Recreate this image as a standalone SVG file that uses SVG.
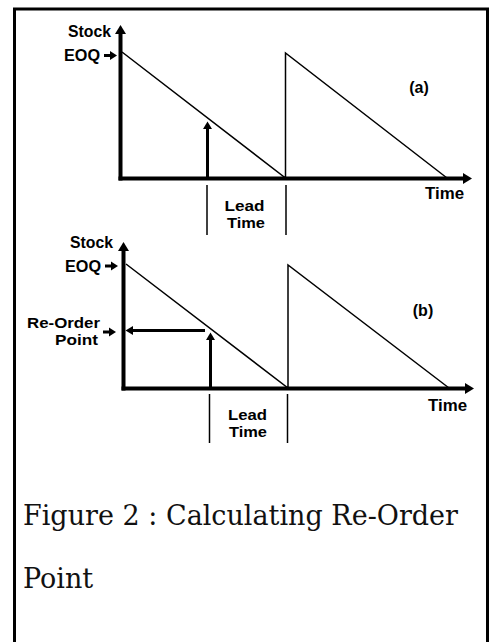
<svg xmlns="http://www.w3.org/2000/svg" width="491" height="642" viewBox="0 0 491 642">
<style>
.frame{fill:none;stroke:#000;stroke-width:3}
.axis{stroke:#000;stroke-width:4;fill:none}
.saw{stroke:#000;stroke-width:1.5;fill:none}
.thin{stroke:#000;stroke-width:1.5;fill:none}
.arr{stroke:#000;stroke-width:3;fill:none}
.head{fill:#000;stroke:none}
.lbl{font-family:"Liberation Sans",Arial,sans-serif;font-weight:bold;font-size:16px;fill:#000}
.lbl2{font-family:"Liberation Sans",Arial,sans-serif;font-weight:bold;font-size:14.5px;fill:#000}
.cap{font-family:"DejaVu Serif",serif;font-size:27px;fill:#111}
</style>
<rect x="0" y="0" width="491" height="642" fill="#fff"/>
<path class="frame" d="M14.5,642 V9 H487.5 V642"/>

<g id="chart-a">
  <g id="connectors-a">
    <line class="axis" x1="120.5" y1="180.5" x2="120.5" y2="32"/>
    <polygon class="head" points="115,34 120.5,25 126,34"/>
    <line class="axis" x1="118.5" y1="178.5" x2="465" y2="178.5"/>
    <polygon class="head" points="463,173 472,178.5 463,184"/>
    <polyline class="saw" points="122,52 285.5,178 285.5,53 447,178"/>
    <line class="arr" x1="207.5" y1="178" x2="207.5" y2="128"/>
    <polygon class="head" points="203,129 207.5,121.5 212,129"/>
    <line class="thin" x1="207" y1="185" x2="207" y2="235"/>
    <line class="thin" x1="286" y1="185" x2="286" y2="235"/>
    <line class="arr" x1="104" y1="55.5" x2="111" y2="55.5"/>
    <polygon class="head" points="110,51 117,55.5 110,60"/>
  </g>
  <g id="labels-a">
    <text class="lbl" x="111" y="37" text-anchor="end" textLength="43" lengthAdjust="spacingAndGlyphs">Stock</text>
    <text class="lbl" x="100" y="61" text-anchor="end" textLength="36" lengthAdjust="spacingAndGlyphs">EOQ</text>
    <text class="lbl" x="419" y="93" text-anchor="middle">(a)</text>
    <text class="lbl" x="425" y="199" textLength="39" lengthAdjust="spacingAndGlyphs">Time</text>
    <text class="lbl2" x="224.5" y="211" textLength="40" lengthAdjust="spacingAndGlyphs">Lead</text>
    <text class="lbl2" x="227" y="228" textLength="38" lengthAdjust="spacingAndGlyphs">Time</text>
  </g>
</g>

<g id="chart-b">
  <g id="connectors-b">
    <line class="axis" x1="123.5" y1="390.5" x2="123.5" y2="249"/>
    <polygon class="head" points="118,251 123.5,242 129,251"/>
    <line class="axis" x1="121.5" y1="388.5" x2="467" y2="388.5"/>
    <polygon class="head" points="465,383 474,388.5 465,394"/>
    <polyline class="saw" points="126,264 288,388 288,265 449,388"/>
    <line class="arr" x1="205" y1="330.5" x2="132" y2="330.5"/>
    <polygon class="head" points="133,326 125.5,330.5 133,335"/>
    <line class="arr" x1="210.5" y1="388" x2="210.5" y2="339"/>
    <polygon class="head" points="206,340 210.5,332.5 215,340"/>
    <line class="thin" x1="209.5" y1="394" x2="209.5" y2="443"/>
    <line class="thin" x1="287.5" y1="394" x2="287.5" y2="443"/>
    <line class="arr" x1="105" y1="266" x2="112" y2="266"/>
    <polygon class="head" points="111,261.5 118,266 111,270.5"/>
    <line class="arr" x1="103" y1="332" x2="110" y2="332"/>
    <polygon class="head" points="109,327.5 116,332 109,336.5"/>
  </g>
  <g id="labels-b">
    <text class="lbl" x="113" y="248" text-anchor="end" textLength="43" lengthAdjust="spacingAndGlyphs">Stock</text>
    <text class="lbl" x="101" y="272" text-anchor="end" textLength="36" lengthAdjust="spacingAndGlyphs">EOQ</text>
    <text class="lbl2" x="100" y="327.5" text-anchor="end" textLength="73" lengthAdjust="spacingAndGlyphs">Re-Order</text>
    <text class="lbl2" x="98" y="344.5" text-anchor="end" textLength="43" lengthAdjust="spacingAndGlyphs">Point</text>
    <text class="lbl" x="423" y="316" text-anchor="middle">(b)</text>
    <text class="lbl" x="428" y="411" textLength="39" lengthAdjust="spacingAndGlyphs">Time</text>
    <text class="lbl2" x="228" y="419.5" textLength="39" lengthAdjust="spacingAndGlyphs">Lead</text>
    <text class="lbl2" x="229" y="436.5" textLength="38" lengthAdjust="spacingAndGlyphs">Time</text>
  </g>
</g>

<g id="caption">
  <text class="cap" x="23" y="525" textLength="435">Figure 2 : Calculating Re-Order</text>
  <text class="cap" x="23" y="588">Point</text>
</g>
</svg>
